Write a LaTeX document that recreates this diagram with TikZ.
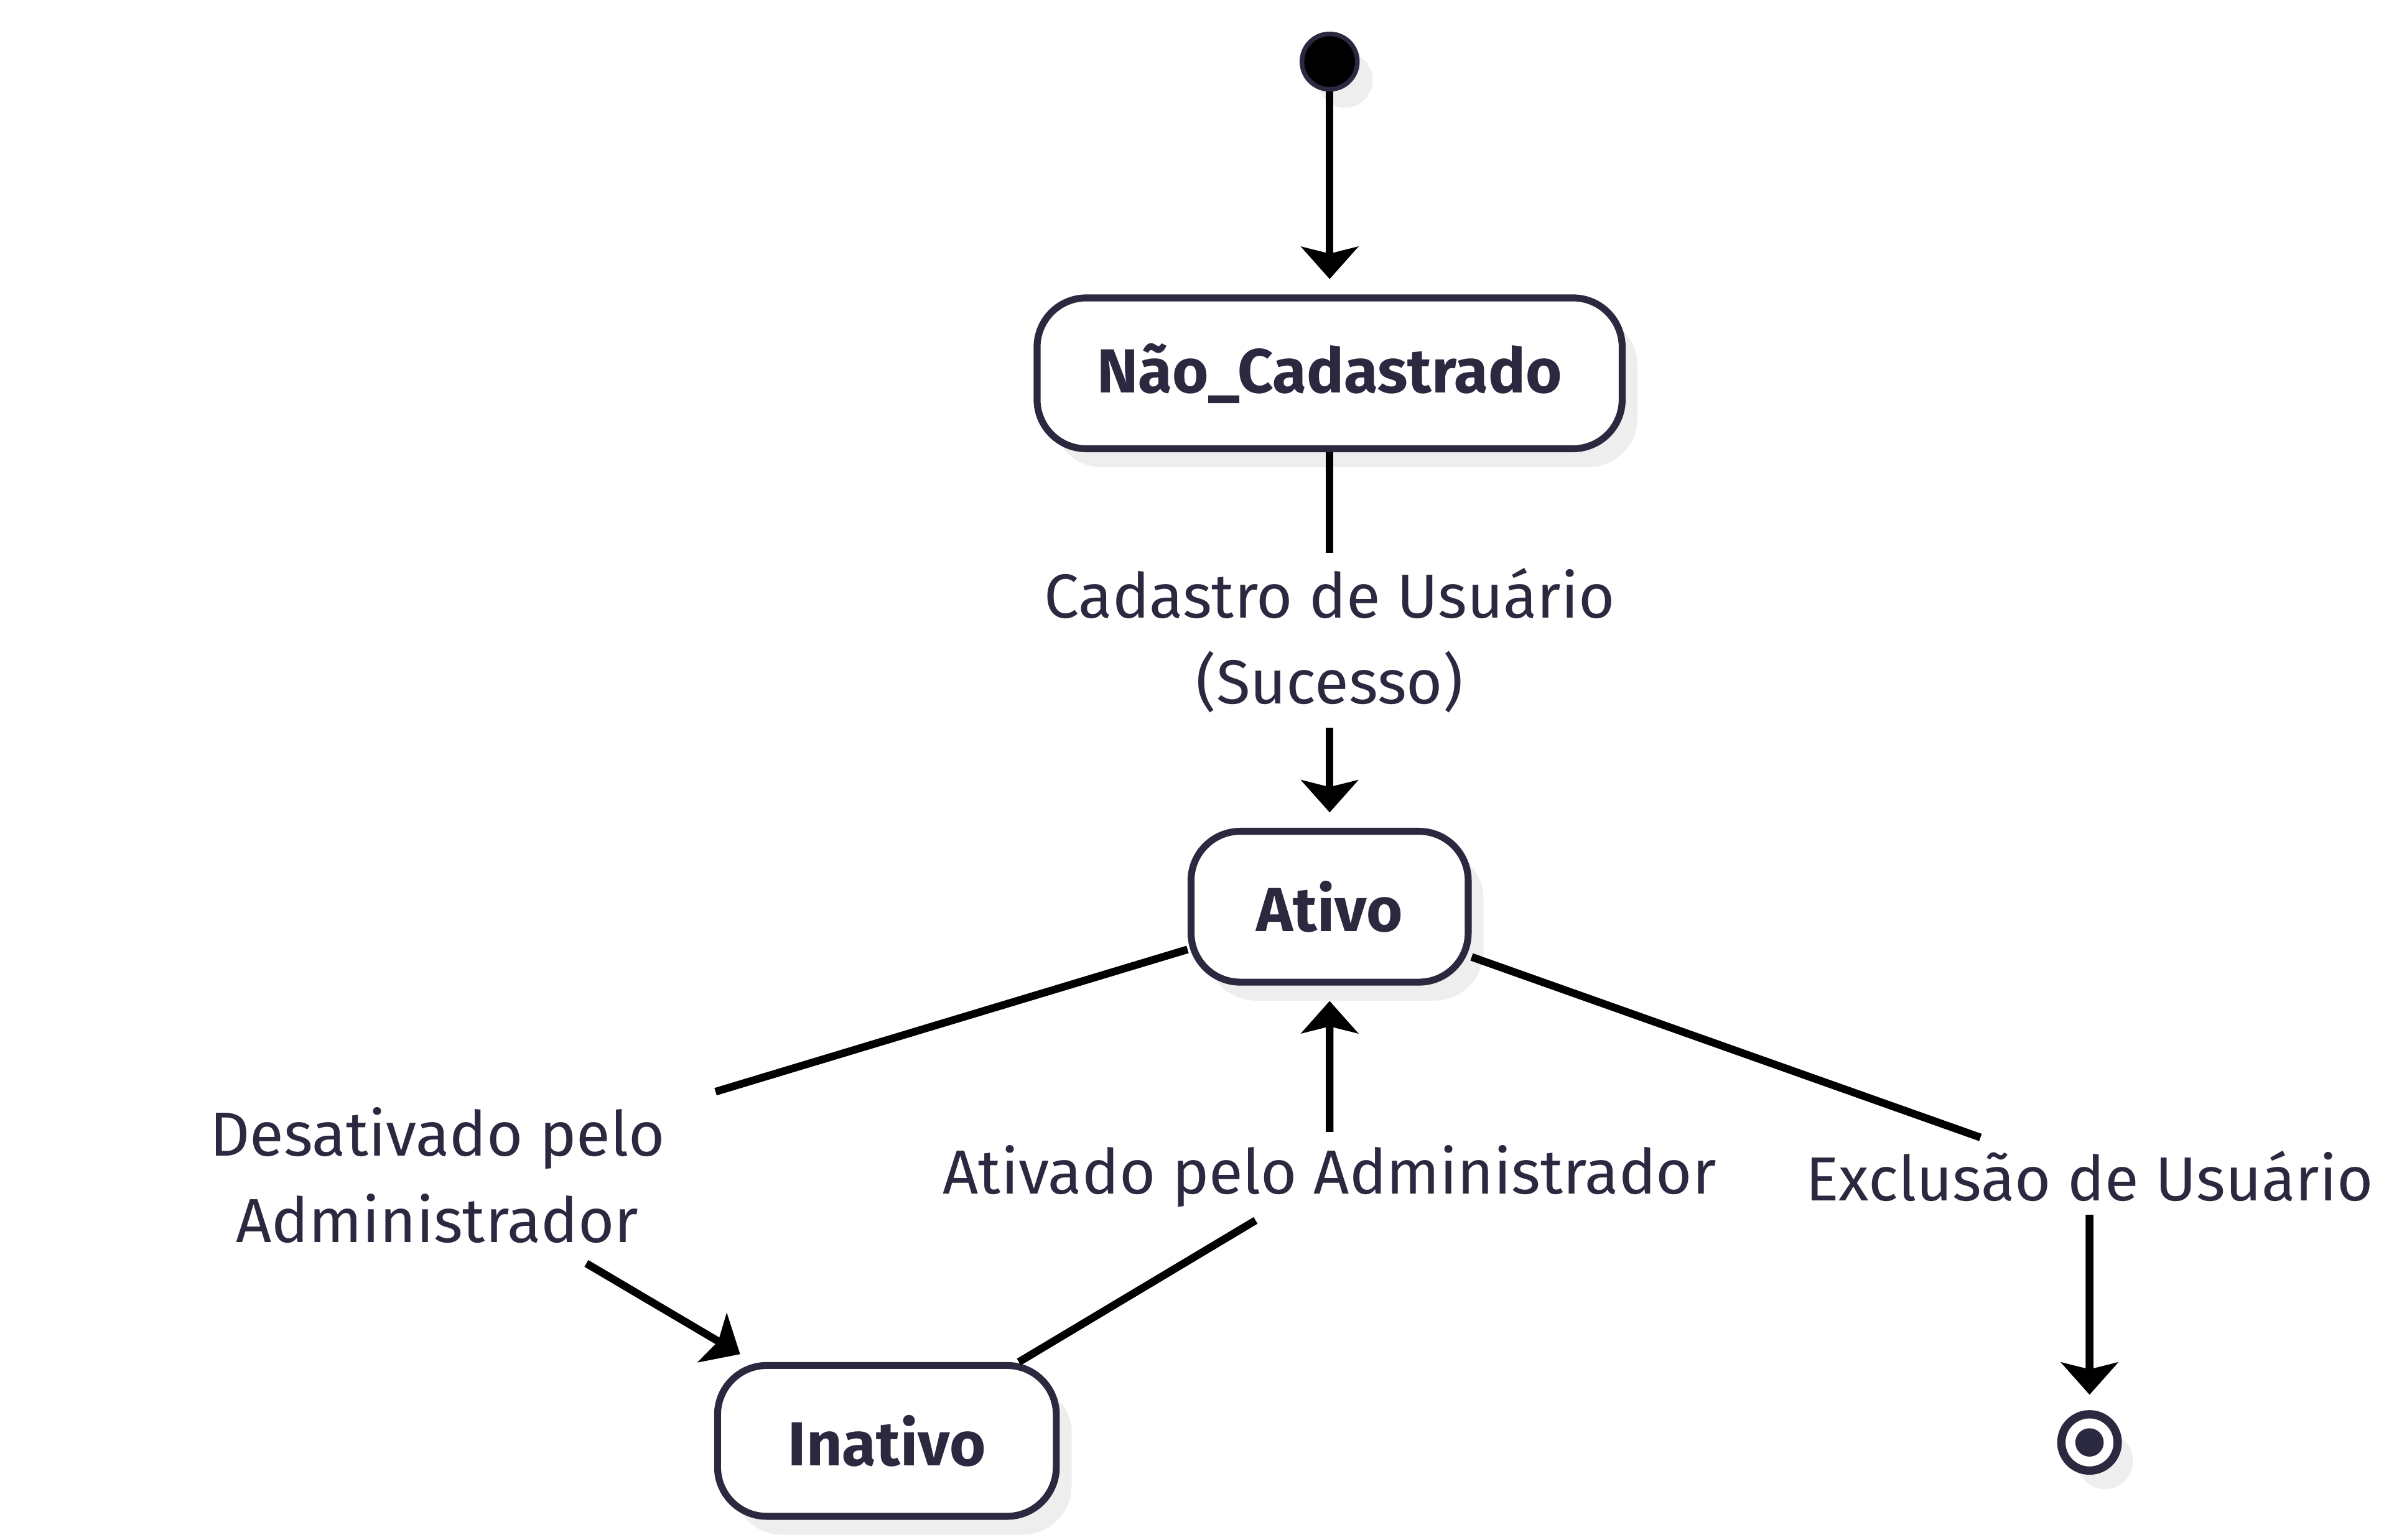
\documentclass[tikz,border=0pt]{standalone}
\usepackage{fontspec}
\setmainfont{Fira Sans}
\usepackage{tikz}
\usetikzlibrary{%
	arrows.meta,%
	shadows%
}
\definecolor{statedark}{RGB}{42,41,64}
\definecolor{shadowgray}{RGB}{238,238,238}
\tikzstyle{stshadow}=[drop shadow={shadow xshift=1mm, shadow yshift=-1.2mm, fill=shadowgray, opacity=1}]
\tikzstyle{state}=[draw=statedark, line width=0.45mm, fill=white, rounded corners=3.2mm, minimum height=9.8mm, text=statedark, font=\fontsize{11.5}{14}\selectfont\bfseries, stshadow]
\tikzstyle{trans}=[fill=white, inner xsep=0.5mm, inner ysep=0.8mm, align=center, text=statedark, font=\fontsize{11.5}{15.9}\selectfont]
\tikzstyle{transline}=[draw=black, line width=0.5mm, -{Stealth[length=2.1mm, width=3.7mm, inset=0.45mm]}, shorten >=1mm]

\begin{document}
\begin{tikzpicture}[x=0.1mm, y=-0.1mm]
				\useasboundingbox (0,0) rectangle (1551.5,1000);

				\node[circle, fill=black, draw=statedark, line width=0.3mm, minimum size=3.6mm, inner sep=0, stshadow] (start) at (863.5,40) {};
				\node[state, minimum width=38mm] (nc) at (863.5,242.5) {Não\_Cadastrado};
				\node[state, minimum width=18mm] (ativo) at (863.5,589) {Ativo};
				\node[state, minimum width=22mm] (inativo) at (576,936) {Inativo};
				\node[circle, draw=statedark, line width=0.54mm, fill=white, minimum size=3.66mm, inner sep=0, stshadow] (fim) at (1357,937) {};
				\fill[statedark] (fim.center) circle (0.92mm);

				% Transition labels
				\node[trans, minimum height=11.2mm] (lCad) at (863.5,416) {Cadastro de Usuário\\(Sucesso)};
				\node[trans, minimum height=11.3mm, minimum width=36mm] (lDes) at (284,763.5) {Desativado pelo\\Administrador};
				\node[trans] (lAtv) at (863.5,764) {Ativado pelo Administrador};
				\node[trans] (lExc) at (1357,764) {Exclusão de Usuário};

				\draw[transline] (start) -- (nc);
				\draw[transline] (nc) -- (lCad) -- (ativo);
				\draw[transline] (ativo) -- (lDes) -- (inativo);
				\draw[transline] (inativo) -- (lAtv) -- (ativo);
				\draw[transline] (ativo) -- (lExc) -- (fim);
			\end{tikzpicture}
\end{document}
